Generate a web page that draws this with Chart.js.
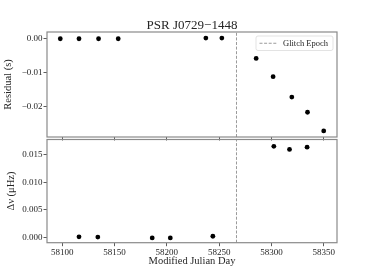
<!DOCTYPE html>
<html>
<head>
<meta charset="utf-8">
<script src="https://cdn.jsdelivr.net/npm/chart.js@4/dist/chart.umd.min.js"></script>
<style>
  html, body { margin: 0; padding: 0; background: #fff; }
  #wrap { position: relative; width: 375px; height: 273px; }
  canvas { position: absolute; left: 0; top: 0; }
</style>
</head>
<body>
<div id="wrap">
  <canvas id="top" width="375" height="273"></canvas>
  <canvas id="bot" width="375" height="273"></canvas>
</div>
<script>
// ---- data ----
const chartTitle = "PSR J0729\u22121448";
const xTitle = "Modified Julian Day";
const topYTitle = "Residual (s)";
const botYTitle = "\u0394\u03BD (\u03BCHz)";
const legendLabel = "Glitch Epoch";
const glitchEpoch = 58266.6;

const residualMJD = [58098.1, 58116.0, 58134.7, 58153.5, 58237.3, 58252.6, 58285.4, 58301.6, 58319.5, 58334.5, 58350.0];
const residualSec = [0.0, 0.0, 0.0, 0.0, 0.0002, 0.0002, -0.0058, -0.0112, -0.0172, -0.0217, -0.0272];

const dnuMJD = [58116.0, 58134.0, 58186.0, 58203.3, 58244.0, 58302.3, 58317.3, 58334.1];
const dnuVal = [0.0001, 0.00005, -0.0001, -0.0001, 0.0002, 0.01656, 0.0160, 0.0164];

const xTicks = [58100, 58150, 58200, 58250, 58300, 58350];
const topYTicks = [-0.02, -0.01, 0.0];
const botYTicks = [0.0, 0.005, 0.010, 0.015];

const xRange = [58085.4, 58362.7];
const topYRange = [-0.0290, 0.0020];
const botYRange = [-0.00097, 0.0178];

// ---- style ----
const FONT = "'Liberation Serif', 'Times New Roman', serif";
const TXT = '#262626';
const fmt = (v, d) => (v < 0 ? '\u2212' : '') + Math.abs(v).toFixed(d);

function pts(xs, ys) { return xs.map((x, i) => ({ x: x, y: ys[i] })); }

const framePlugin = {
  id: 'framePlugin',
  afterDatasetsDraw(chart) {
    const { ctx, chartArea: a } = chart;
    ctx.save();
    ctx.strokeStyle = '#8a8a8a';
    ctx.lineWidth = 1.2;
    ctx.strokeRect(a.left, a.top, a.right - a.left, a.bottom - a.top);
    ctx.restore();
  }
};

const textPlugin = {
  id: 'textPlugin',
  afterDraw(chart, args, opts) {
    const { ctx, chartArea: a } = chart;
    ctx.save();
    ctx.fillStyle = TXT;
    // y-axis title
    ctx.save();
    ctx.translate(opts.yTitleX, (a.top + a.bottom) / 2);
    ctx.rotate(-Math.PI / 2);
    ctx.font = "10.5px " + FONT;
    ctx.textAlign = 'center';
    ctx.textBaseline = 'middle';
    ctx.fillText(opts.yTitle, 0, 0);
    ctx.restore();
    if (opts.title) {
      ctx.font = "13px " + FONT;
      ctx.textAlign = 'center';
      ctx.textBaseline = 'alphabetic';
      ctx.fillText(opts.title, (a.left + a.right) / 2, a.top - 3);
    }
    if (opts.xTitle) {
      ctx.font = "10.5px " + FONT;
      ctx.textAlign = 'center';
      ctx.textBaseline = 'middle';
      ctx.fillText(opts.xTitle, (a.left + a.right) / 2, 261.5);
    }
    if (opts.legend) {
      const w = 77, h = 14.5;
      const x0 = a.right - 4 - w, y0 = a.top + 4;
      ctx.beginPath();
      if (ctx.roundRect) ctx.roundRect(x0, y0, w, h, 2); else ctx.rect(x0, y0, w, h);
      ctx.fillStyle = 'rgba(255,255,255,0.85)';
      ctx.fill();
      ctx.strokeStyle = '#dcdcdc';
      ctx.lineWidth = 0.8;
      ctx.stroke();
      const ym = y0 + h / 2;
      ctx.beginPath();
      ctx.setLineDash([3, 1.6]);
      ctx.strokeStyle = '#9a9a9a';
      ctx.lineWidth = 1;
      ctx.moveTo(x0 + 3.5, ym);
      ctx.lineTo(x0 + 21, ym);
      ctx.stroke();
      ctx.setLineDash([]);
      ctx.fillStyle = TXT;
      ctx.font = "8.5px " + FONT;
      ctx.textAlign = 'left';
      ctx.textBaseline = 'middle';
      ctx.fillText(opts.legend, x0 + 27, ym + 0.5);
    }
    ctx.restore();
  }
};

function glitchDataset(yr) {
  return {
    type: 'line',
    data: [{ x: glitchEpoch, y: yr[0] }, { x: glitchEpoch, y: yr[1] }],
    borderColor: '#9a9a9a',
    borderWidth: 1,
    borderDash: [3, 1.6],
    pointRadius: 0,
    showLine: true,
    fill: false,
    order: 2
  };
}

function makeChart(id, cfg) {
  const yTicksArr = cfg.yTicks;
  return new Chart(document.getElementById(id), {
    type: 'scatter',
    data: {
      datasets: [
        {
          data: cfg.points,
          backgroundColor: '#000',
          borderWidth: 0,
          pointRadius: 2.4,
          pointHoverRadius: 2.4,
          order: 1
        },
        glitchDataset(cfg.yRange)
      ]
    },
    options: {
      responsive: false,
      animation: false,
      events: [],
      layout: { padding: cfg.padding },
      plugins: {
        legend: { display: false },
        tooltip: { enabled: false },
        textPlugin: cfg.text
      },
      scales: {
        x: {
          type: 'linear',
          min: xRange[0],
          max: xRange[1],
          afterBuildTicks: s => { s.ticks = xTicks.map(v => ({ value: v })); },
          afterFit: s => { s.height = cfg.xHeight; },
          grid: { display: true, drawOnChartArea: false, drawTicks: true, tickLength: 3.5, color: '#333', lineWidth: 0.8 },
          border: { display: false },
          ticks: {
            display: cfg.xLabels,
            padding: 1.5,
            color: TXT,
            font: { family: FONT, size: 9 },
            maxRotation: 0,
            autoSkip: false,
            callback: v => String(v)
          }
        },
        y: {
          type: 'linear',
          min: cfg.yRange[0],
          max: cfg.yRange[1],
          afterBuildTicks: s => { s.ticks = yTicksArr.map(v => ({ value: v })); },
          afterFit: s => { s.width = 47; },
          grid: { display: true, drawOnChartArea: false, drawTicks: true, tickLength: 3.5, color: '#333', lineWidth: 0.8 },
          border: { display: false },
          ticks: {
            padding: 1,
            color: TXT,
            font: { family: FONT, size: 9 },
            autoSkip: false,
            callback: v => fmt(v, cfg.dec)
          }
        }
      }
    },
    plugins: [framePlugin, textPlugin]
  });
}

makeChart('top', {
  points: pts(residualMJD, residualSec),
  yRange: topYRange,
  yTicks: topYTicks,
  dec: 2,
  xLabels: false,
  xHeight: 4,
  padding: { left: 0, top: 32, right: 38, bottom: 132 },
  text: { yTitle: topYTitle, yTitleX: 8, title: chartTitle, legend: legendLabel }
});

makeChart('bot', {
  points: pts(dnuMJD, dnuVal),
  yRange: botYRange,
  yTicks: botYTicks,
  dec: 3,
  xLabels: true,
  xHeight: 30.3,
  padding: { left: 0, top: 139.5, right: 38, bottom: 0 },
  text: { yTitle: botYTitle, yTitleX: 11, xTitle: xTitle }
});
</script>
</body>
</html>
